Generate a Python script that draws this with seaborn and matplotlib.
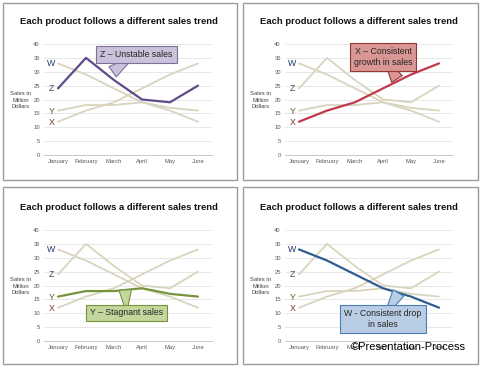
import pandas as pd
import matplotlib.pyplot as plt
import seaborn as sns
from matplotlib.patches import Rectangle

months = ["January", "February", "March", "April", "May", "June"]
products = ["W", "Z", "Y", "X"]
sales_w = [33, 29, 24, 19, 16, 12]
sales_z = [24, 35, 27, 20, 19, 25]
sales_y = [16, 18, 18, 19, 17, 16]
sales_x = [12, 16, 19, 24, 29, 33]

title = "Each product follows a different sales trend"
ylabel = "Sales in\nMillion\nDollars"
yticks = [0, 5, 10, 15, 20, 25, 30, 35, 40]

# panel order: highlighted product, callout text, callout pos, pointer tip
highlight = ["Z", "X", "Y", "W"]
callouts = ["Z \u2013 Unstable sales", "X \u2013 Consistent\ngrowth in sales",
            "Y \u2013 Stagnant sales", "W - Consistent drop\nin sales"]
text_pos = [(2.8, 36.2), (3.0, 35.3), (2.45, 10.1), (3.0, 7.9)]
tip_pos = [(1.95, 30.0), (3.5, 27.4), (2.4, 18.4), (3.55, 17.3)]

line_colors = {"W": "#2f5d93", "X": "#c0394b", "Y": "#77933c", "Z": "#5f4b8b"}
box_fc = {"W": "#b9cde5", "X": "#d99694", "Y": "#c3d69b", "Z": "#ccc1da"}
box_ec = {"W": "#4a7ebb", "X": "#953735", "Y": "#77933c", "Z": "#7f6f9f"}
letter_colors = {"W": "#1f3864", "Z": "#4d4d4d", "Y": "#4f6228", "X": "#772c2a"}
faded = "#d8d4bd"

df = pd.DataFrame({
    "month": months * 4,
    "product": ["W"] * 6 + ["Z"] * 6 + ["Y"] * 6 + ["X"] * 6,
    "sales": sales_w + sales_z + sales_y + sales_x,
})
df["idx"] = df["month"].map({m: i for i, m in enumerate(months)})
jan = dict(zip(products, [sales_w[0], sales_z[0], sales_y[0], sales_x[0]]))

sns.set_theme(style="white")
plt.rcParams["font.family"] = ["Liberation Sans", "DejaVu Sans"]

W, H = 480, 367
fig = plt.figure(figsize=(4.8, 3.67), dpi=100)
fig.patch.set_facecolor("white")

origins = [(0, 0), (240, 0), (0, 183), (240, 183)]
borders = [(3, 3, 234, 177), (243, 3, 235, 177), (3, 187, 234, 177), (243, 187, 235, 177)]

for i, prod in enumerate(highlight):
    ox, oy = origins[i]
    bx, by, bw, bh = borders[i]
    fig.patches.append(Rectangle((bx / W, 1 - (by + bh) / H), bw / W, bh / H,
                                 transform=fig.transFigure, fill=False,
                                 ec="#9a9a9a", lw=1.0))
    top = 44 if i < 2 else 47
    left = 44 if i % 2 == 0 else 45
    ax = fig.add_axes([(ox + left) / W, 1 - (oy + top + 111) / H, 168 / W, 111 / H])

    others = df[df["product"] != prod]
    sns.lineplot(data=others, x="idx", y="sales", units="product", estimator=None,
                 color=faded, lw=1.3, ax=ax)
    sns.lineplot(data=df[df["product"] == prod], x="idx", y="sales",
                 color=line_colors[prod], lw=1.6, ax=ax)

    ax.set_xlim(-0.5, 5.5)
    ax.set_ylim(0, 40)
    ax.set_yticks(yticks)
    ax.set_xticks(range(6))
    ax.set_xticklabels(months)
    ax.tick_params(labelsize=4.2, colors="#595959", length=0, pad=3)
    ax.grid(axis="y", color="#e3e3e3", lw=0.6)
    ax.set_axisbelow(True)
    for s in ["top", "right", "left"]:
        ax.spines[s].set_visible(False)
    ax.spines["bottom"].set_color("#bfbfbf")
    ax.spines["bottom"].set_linewidth(0.6)
    ax.set_xlabel("")
    ax.set_ylabel("")
    ax.set_facecolor("none")

    for p in products:
        ax.text(-0.24, jan[p] - 0.2, p, fontsize=6.3, color=letter_colors[p],
                ha="center", va="center")

    # callout pointer: wide at the box centre, narrowing to the tip
    ax.annotate("", xy=text_pos[i], xytext=tip_pos[i],
                arrowprops=dict(arrowstyle="wedge,tail_width=0.9,shrink_factor=0.5",
                                mutation_scale=10, fc=box_fc[prod], ec=box_ec[prod],
                                lw=0.8, shrinkA=0, shrinkB=0),
                zorder=5)
    ax.text(*text_pos[i], callouts[i], fontsize=6.3, ha="center", va="center",
            color="#262626", zorder=6,
            bbox=dict(boxstyle="square,pad=0.45", fc=box_fc[prod],
                      ec=box_ec[prod], lw=0.8))

    fig.text((ox + 21) / W, 1 - (oy + top + 56) / H, ylabel, fontsize=4.2,
             color="#404040", ha="center", va="center", linespacing=1.3)
    fig.text((ox + 119) / W, 1 - (oy + top - 23) / H, title, fontsize=6.8,
             fontweight="bold", ha="center", va="center", color="#111111")

fig.text(408 / W, 1 - 347 / H, "\u00a9Presentation-Process", fontsize=8,
         ha="center", va="center", color="black")

plt.savefig("out.png", dpi=100)
